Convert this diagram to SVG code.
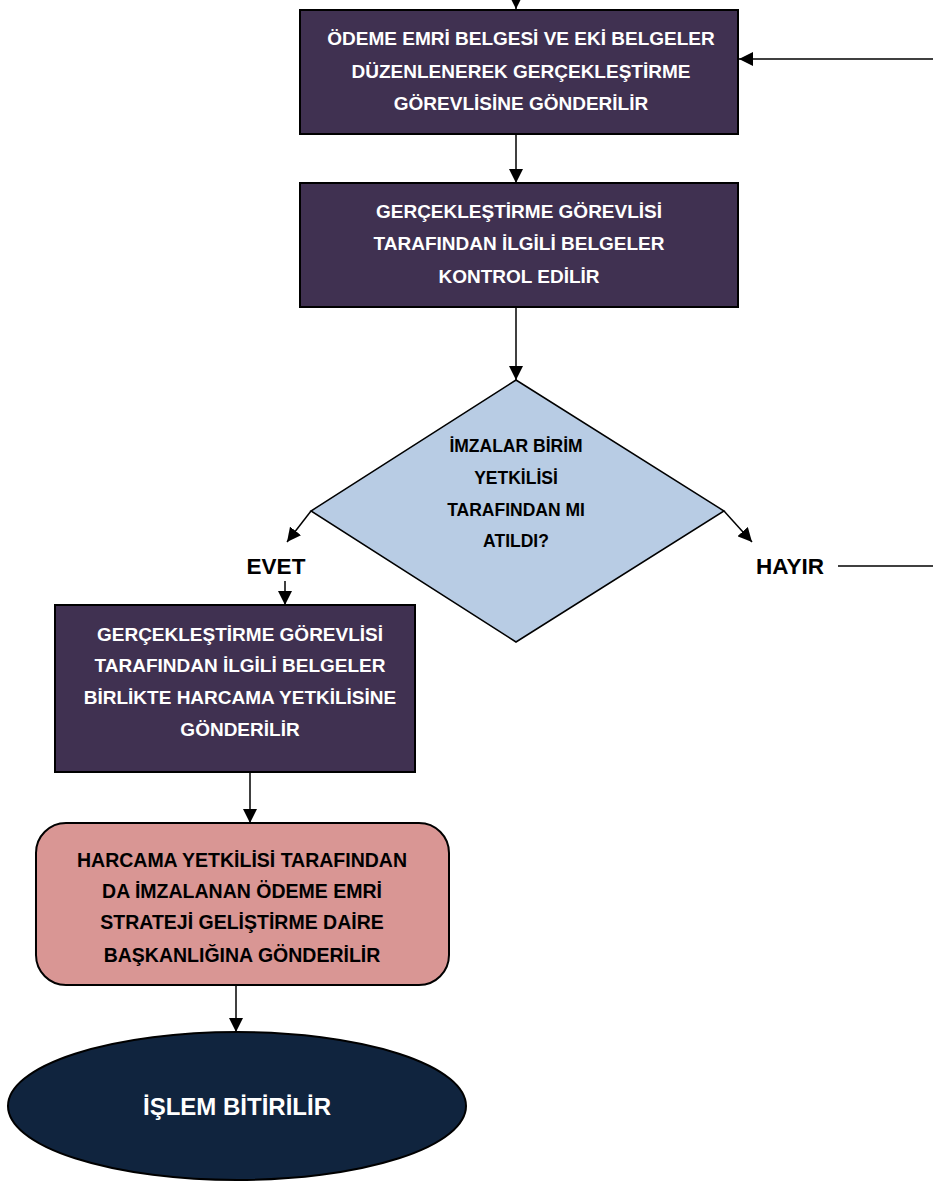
<svg xmlns="http://www.w3.org/2000/svg" width="933" height="1183" viewBox="0 0 933 1183">
<defs>
<style>
.box{fill:#403151;stroke:#000;stroke-width:2}
.wt{fill:#fff;font-family:"Liberation Sans",Arial,sans-serif;font-weight:bold;font-size:19px;text-anchor:middle}
.bt{fill:#000;font-family:"Liberation Sans",Arial,sans-serif;font-weight:bold;font-size:19.5px;text-anchor:middle}
.dt{fill:#000;font-family:"Liberation Sans",Arial,sans-serif;font-weight:bold;font-size:17.5px;text-anchor:middle}
.lbl{fill:#000;font-family:"Liberation Sans",Arial,sans-serif;font-weight:bold;font-size:22.5px;text-anchor:middle}
.ln{fill:none;stroke:#000;stroke-width:1.5}
</style>
<marker id="ahb" viewBox="0 0 10 10" refX="10" refY="5" markerWidth="14" markerHeight="14" markerUnits="userSpaceOnUse" orient="auto">
<path d="M0,0 L10,5 L0,10 Z" fill="#000"/>
</marker>
</defs>

<g id="connectors">
<line class="ln" x1="516" y1="0" x2="516" y2="9" marker-end="url(#ahb)"/>
<line class="ln" x1="933" y1="59" x2="739" y2="59" marker-end="url(#ahb)"/>
<line class="ln" x1="516" y1="135" x2="516" y2="183" marker-end="url(#ahb)"/>
<line class="ln" x1="516" y1="308" x2="516" y2="380" marker-end="url(#ahb)"/>
<line class="ln" x1="311" y1="511" x2="287" y2="542" marker-end="url(#ahb)"/>
<line class="ln" x1="724" y1="511" x2="752" y2="542" marker-end="url(#ahb)"/>
<line class="ln" x1="285" y1="581" x2="285" y2="605" marker-end="url(#ahb)"/>
<line class="ln" x1="838" y1="566" x2="933" y2="566"/>
<line class="ln" x1="250" y1="773" x2="250" y2="823" marker-end="url(#ahb)"/>
<line class="ln" x1="236" y1="986" x2="236" y2="1032" marker-end="url(#ahb)"/>
</g>

<g id="node-odeme-emri">
<rect class="box" x="300" y="10" width="438" height="124"/>
<text class="wt" x="521" y="45">ÖDEME EMRİ BELGESİ VE EKİ BELGELER</text>
<text class="wt" x="521" y="78">DÜZENLENEREK GERÇEKLEŞTİRME</text>
<text class="wt" x="521" y="110">GÖREVLİSİNE GÖNDERİLİR</text>
</g>

<g id="node-kontrol">
<rect class="box" x="300" y="183" width="438" height="124"/>
<text class="wt" x="519" y="218">GERÇEKLEŞTİRME GÖREVLİSİ</text>
<text class="wt" x="519" y="250">TARAFINDAN İLGİLİ BELGELER</text>
<text class="wt" x="519" y="283">KONTROL EDİLİR</text>
</g>

<g id="node-karar">
<polygon points="516,380 724,511 516,642 311,511" fill="#b8cce4" stroke="#000" stroke-width="1.5"/>
<text class="dt" x="516" y="452">İMZALAR BİRİM</text>
<text class="dt" x="516" y="484">YETKİLİSİ</text>
<text class="dt" x="516" y="516">TARAFINDAN MI</text>
<text class="dt" x="516" y="547">ATILDI?</text>
</g>

<g id="label-evet">
<text class="lbl" x="276" y="574">EVET</text>
</g>
<g id="label-hayir">
<text class="lbl" x="790" y="574">HAYIR</text>
</g>

<g id="node-harcama-gonder">
<rect class="box" x="55" y="605" width="360" height="167"/>
<text class="wt" x="240" y="641">GERÇEKLEŞTİRME GÖREVLİSİ</text>
<text class="wt" x="240" y="672">TARAFINDAN İLGİLİ BELGELER</text>
<text class="wt" x="240" y="704">BİRLİKTE HARCAMA YETKİLİSİNE</text>
<text class="wt" x="240" y="736">GÖNDERİLİR</text>
</g>

<g id="node-strateji">
<rect x="36" y="823" width="413" height="162" rx="30" ry="30" fill="#d99694" stroke="#000" stroke-width="2"/>
<text class="bt" x="242" y="867">HARCAMA YETKİLİSİ TARAFINDAN</text>
<text class="bt" x="242" y="898">DA İMZALANAN ÖDEME EMRİ</text>
<text class="bt" x="242" y="929">STRATEJİ GELİŞTİRME DAİRE</text>
<text class="bt" x="242" y="962">BAŞKANLIĞINA GÖNDERİLİR</text>
</g>

<g id="node-bitir">
<ellipse cx="237" cy="1106" rx="229" ry="74" fill="#10243e" stroke="#000" stroke-width="2"/>
<text x="237" y="1115" fill="#fff" font-family="Liberation Sans, Arial, sans-serif" font-weight="bold" font-size="24" text-anchor="middle">İŞLEM BİTİRİLİR</text>
</g>
</svg>
